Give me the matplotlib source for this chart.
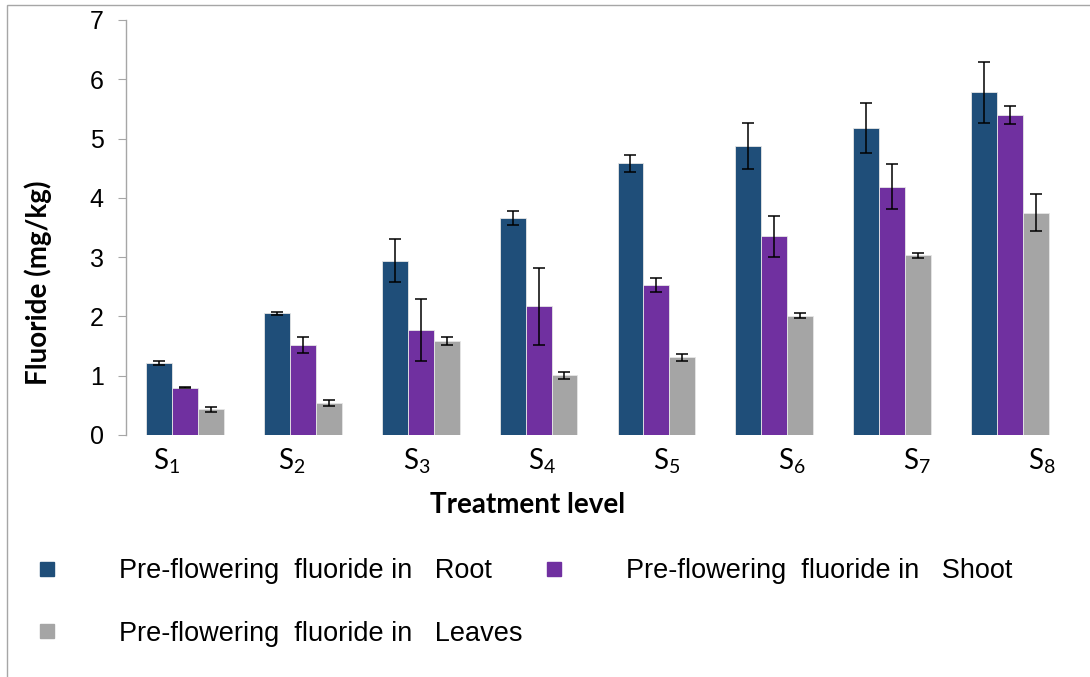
import numpy as np
import matplotlib
matplotlib.use("Agg")
import matplotlib.pyplot as plt
from matplotlib.lines import Line2D
from matplotlib.patches import Rectangle

# %% dados
niveis = ["S$_1$", "S$_2$", "S$_3$", "S$_4$", "S$_5$", "S$_6$", "S$_7$", "S$_8$"]

raiz = [1.21, 2.05, 2.94, 3.66, 4.58, 4.87, 5.18, 5.78]
raiz_erro = [0.03, 0.03, 0.36, 0.11, 0.15, 0.39, 0.42, 0.51]

parte_aerea = [0.80, 1.52, 1.77, 2.17, 2.53, 3.35, 4.19, 5.40]
parte_aerea_erro = [0.01, 0.13, 0.52, 0.65, 0.12, 0.34, 0.38, 0.15]

folhas = [0.43, 0.54, 1.59, 1.01, 1.31, 2.01, 3.03, 3.75]
folhas_erro = [0.04, 0.05, 0.07, 0.06, 0.06, 0.04, 0.04, 0.31]

rotulos = [
    "Pre-flowering  fluoride in   Root",
    "Pre-flowering  fluoride in   Shoot",
    "Pre-flowering  fluoride in   Leaves",
]
cores = ["#1F4E79", "#7030A0", "#A5A5A5"]

# %% grafico
plt.rcParams["mathtext.default"] = "regular"

fig = plt.figure(figsize=(10.9, 6.77), dpi=100)
ax = fig.add_axes([0.1156, 0.3575, 0.8651, 0.613])

x = np.arange(len(niveis))
largura = 0.22
series = [(raiz, raiz_erro), (parte_aerea, parte_aerea_erro), (folhas, folhas_erro)]

for i, (valores, erros) in enumerate(series):
    ax.bar(x + (i - 1) * largura, valores, largura, color=cores[i],
           edgecolor="#E6E6E6", linewidth=0.6, zorder=2)
    ax.errorbar(x + (i - 1) * largura, valores, yerr=erros, fmt="none",
                ecolor="black", elinewidth=1.1, capsize=4.3, capthick=1.1, zorder=3)

ax.set_xlim(-0.5, 7.5)
ax.set_ylim(0, 7)
ax.set_yticks(range(0, 8))
ax.tick_params(axis="y", direction="out", length=6, color="#A6A6A6",
               labelsize=18, pad=10)
for lbl in ax.get_yticklabels():
    lbl.set_family("Liberation Sans")

# rotulos dos niveis espacados de forma uniforme sob o eixo
ax.set_xticks(np.linspace(-0.152, 7.27, len(niveis)))
ax.set_xticklabels(niveis, family="Lato", fontsize=20)
ax.tick_params(axis="x", length=0, pad=8)

for lado in ["top", "right", "bottom"]:
    ax.spines[lado].set_visible(False)
ax.spines["left"].set_color("#A6A6A6")
ax.spines["left"].set_linewidth(1)

ax.set_ylabel("Fluoride (mg/kg)", family="Lato", fontweight="bold", fontsize=20)
ax.yaxis.set_label_coords(-0.078, 0.366)
fig.text(528 / 1090, 1 - 505 / 677, "Treatment level", family="Lato",
         fontweight="bold", fontsize=20, ha="center", va="center")

# legenda com marcadores quadrados
marcadores = [Line2D([], [], linestyle="none", marker="s", markersize=9.5,
                     color=c) for c in cores]
ordem = [0, 2, 1]
fig.legend([marcadores[i] for i in ordem], [rotulos[i] for i in ordem],
           loc="upper left", bbox_to_anchor=(38 / 1090, 1 - 558 / 677),
           ncol=2, frameon=False, prop={"family": "Liberation Sans", "size": 19.5},
           handlelength=0.7, handletextpad=2.3, columnspacing=0.8,
           labelspacing=1.35, borderpad=0, borderaxespad=0)

# moldura da area do grafico
fig.add_artist(Rectangle((7 / 1090, -0.1), 1.2, 1.1 - 5 / 677,
                         transform=fig.transFigure, fill=False,
                         edgecolor="#A6A6A6", linewidth=1))

fig.savefig("out.png", dpi=100)
